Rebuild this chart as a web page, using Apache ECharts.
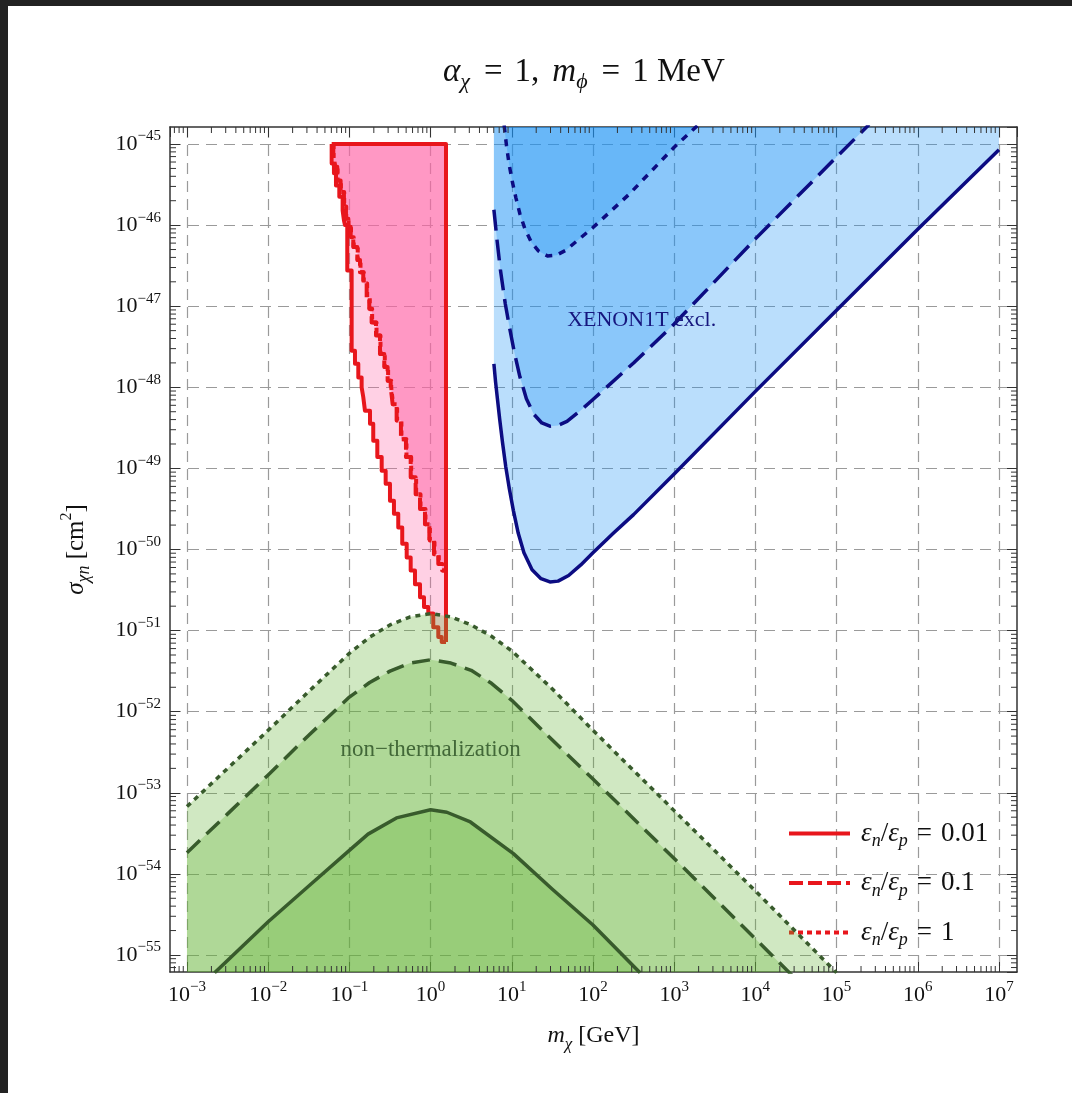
<!DOCTYPE html>
<html>
<head>
<meta charset="utf-8">
<script src="https://cdn.jsdelivr.net/npm/echarts@6/dist/echarts.min.js"></script>
<style>
  html, body { margin: 0; padding: 0; background: #222222; }
  #chart { position: absolute; left: 8px; top: 6px; width: 1064px; height: 1087px; background: #ffffff; }
</style>
</head>
<body>
<div id="chart"></div>
<script>
// All curves are stored as [log10(m_chi / GeV), log10(sigma_chi_n / cm^2)] pairs.

// Axis decades (tick labels 10^n)
const massDecades = [-3, -2, -1, 0, 1, 2, 3, 4, 5, 6, 7];
const sigmaDecades = [-55, -54, -53, -52, -51, -50, -49, -48, -47, -46, -45];

// Legend ratios eps_n / eps_p
const ratioLabels = ['0.01', '0.1', '1'];

// XENON1T exclusion boundaries (excluded above each curve)
const xenonSolid = [[0.78,-47.71],[0.80,-47.93],[0.823,-48.14],[0.852,-48.40],[0.886,-48.68],[0.926,-48.98],
  [0.97,-49.25],[1.02,-49.52],[1.08,-49.80],[1.15,-50.04],[1.25,-50.25],[1.36,-50.36],[1.47,-50.40],
  [1.57,-50.39],[1.70,-50.32],[1.85,-50.19],[2.0,-50.04],[2.25,-49.80],[2.5,-49.57],[3,-49.07],
  [4,-48.05],[5,-47.05],[6,-46.05],[7,-45.07]];
const xenonDashed = [[0.78,-45.81],[0.82,-46.2],[0.86,-46.55],[0.92,-46.97],[0.97,-47.25],[1.03,-47.56],
  [1.10,-47.87],[1.18,-48.14],[1.27,-48.33],[1.37,-48.44],[1.47,-48.48],[1.57,-48.47],[1.68,-48.42],
  [1.83,-48.30],[2,-48.15],[2.5,-47.70],[3,-47.22],[4,-46.17],[5,-45.16],[5.4,-44.76]];
const xenonDotted = [[0.906,-44.77],[0.935,-45.02],[0.967,-45.25],[1.01,-45.48],[1.05,-45.66],[1.10,-45.86],
  [1.16,-46.04],[1.24,-46.21],[1.33,-46.32],[1.44,-46.38],[1.55,-46.37],[1.665,-46.31],[1.82,-46.18],
  [2,-46.03],[2.445,-45.62],[3,-45.04],[3.3,-44.76]];

// Non-thermalization boundaries (region below each curve)
const thermSolid = [[-2.66,-55.22],[-2,-54.59],[-1.5,-54.15],[-1,-53.71],[-0.77,-53.51],[-0.42,-53.31],
  [0,-53.21],[0.2,-53.24],[0.49,-53.36],[1.02,-53.75],[1.5,-54.19],[2,-54.63],[2.58,-55.22]];
const thermDashed = [[-3,-53.74],[-2.5,-53.26],[-2,-52.78],[-1.5,-52.29],[-1,-51.82],[-0.75,-51.64],
  [-0.5,-51.50],[-0.25,-51.40],[0,-51.36],[0.25,-51.40],[0.5,-51.49],[0.75,-51.65],[1,-51.86],
  [1.5,-52.35],[2,-52.83],[3,-53.81],[4,-54.80],[4.45,-55.25]];
const thermDotted = [[-3,-53.17],[-2.5,-52.70],[-2,-52.23],[-1.5,-51.75],[-1,-51.28],[-0.75,-51.08],
  [-0.5,-50.93],[-0.25,-50.83],[0,-50.79],[0.25,-50.83],[0.5,-50.93],[0.75,-51.07],[1,-51.25],
  [1.5,-51.72],[2,-52.23],[3,-53.22],[4,-54.21],[5,-55.22]];

// Staircase boundaries of the pink region (region to the right of each curve)
const redSolid = [[-1.218,-45.0],[-1.218,-45.14],[-1.19,-45.24],[-1.165,-45.36],[-1.124,-45.51],
  [-1.083,-45.65],[-1.067,-45.82],[-1.054,-45.94],[-1.026,-46.0],[-1.026,-46.52],[-0.972,-46.56],
  [-0.972,-47.48],[-0.931,-47.55],[-0.89,-47.71],[-0.849,-47.88],[-0.829,-48.0],[-0.808,-48.12],
  [-0.746,-48.29],[-0.706,-48.45],[-0.656,-48.66],[-0.602,-48.86],[-0.553,-49.03],[-0.5,-49.19],
  [-0.451,-49.40],[-0.398,-49.56],[-0.349,-49.73],[-0.294,-49.93],[-0.245,-50.10],[-0.192,-50.26],
  [-0.13,-50.43],[-0.081,-50.59],[-0.028,-50.71],[0.033,-50.79],[0.095,-50.96],[0.137,-51.08],
  [0.157,-51.14],[0.19,-51.14]];
const redDashed = [[-1.198,-45.0],[-1.177,-45.16],[-1.149,-45.28],[-1.108,-45.45],[-1.067,-45.59],
  [-1.042,-45.77],[-1.013,-45.92],[-0.984,-46.02],[-0.952,-46.15],[-0.902,-46.27],[-0.869,-46.43],
  [-0.829,-46.58],[-0.787,-46.72],[-0.755,-46.89],[-0.726,-47.03],[-0.672,-47.20],[-0.623,-47.36],
  [-0.57,-47.59],[-0.529,-47.75],[-0.491,-47.92],[-0.467,-48.0],[-0.418,-48.21],[-0.365,-48.41],
  [-0.303,-48.64],[-0.245,-48.86],[-0.184,-49.11],[-0.13,-49.32],[-0.069,-49.50],[-0.015,-49.69],
  [0.042,-49.89],[0.095,-50.06],[0.137,-50.18],[0.165,-50.26],[0.19,-50.26]];
const redDotted = [[-1.195,-45.0],[-1.174,-45.16],[-1.146,-45.28],[-1.105,-45.45],[-1.064,-45.59],
  [-1.039,-45.77],[-1.01,-45.92],[-0.98,-46.02],[-0.947,-46.15],[-0.897,-46.27],[-0.863,-46.43],
  [-0.823,-46.58],[-0.781,-46.72],[-0.749,-46.89],[-0.72,-47.03],[-0.666,-47.20],[-0.617,-47.36],
  [-0.564,-47.59],[-0.523,-47.75],[-0.485,-47.92],[-0.461,-48.0],[-0.412,-48.21],[-0.359,-48.41],
  [-0.297,-48.64],[-0.239,-48.86],[-0.178,-49.11],[-0.124,-49.32],[-0.063,-49.50],[-0.009,-49.69],
  [0.048,-49.89],[0.101,-50.06],[0.143,-50.18],[0.171,-50.26],[0.19,-50.26]];
// Top and right edges of the pink region
const redEdge = [[-1.218,-45.0],[0.19,-45.0],[0.19,-51.14]];

// ---- plot setup ----
const X_MIN = -3.209, X_MAX = 7.222, Y_MIN = -55.21, Y_MAX = -44.79;
const FONT = "'Liberation Serif', 'Times New Roman', serif";
const AXIS_COLOR = '#333333';
const TEXT = '#111111';
const RED = '#e8161c', NAVY = '#0c0c82', DKGREEN = '#385b2c';
const PINK_FILL = 'rgba(255,98,165,0.3)';
const BLUE_FILL = 'rgba(28,145,245,0.3)';
const GREEN_FILL = 'rgba(98,178,52,0.3)';

function powerLabel(decades) {
  return function (v) {
    const r = Math.round(v);
    if (Math.abs(v - r) > 1e-6 || decades.indexOf(r) < 0) return '';
    return '{b|10}{e|' + (r < 0 ? '\u2212' : '') + Math.abs(r) + '}';
  };
}
const tickRich = {
  b: { fontFamily: FONT, fontSize: 22, lineHeight: 30, color: TEXT },
  e: { fontFamily: FONT, fontSize: 15, lineHeight: 24, color: TEXT, verticalAlign: 'top' }
};

function minorTicks(decades, lo, hi) {
  const out = [];
  for (let n = decades[0] - 1; n <= decades[decades.length - 1]; n++) {
    for (let k = 2; k <= 9; k++) {
      const v = n + Math.log10(k);
      if (v > lo && v < hi) out.push(v);
    }
  }
  return out;
}
const minorX = minorTicks(massDecades, X_MIN, X_MAX);
const minorY = minorTicks(sigmaDecades, Y_MIN, Y_MAX);
const MINOR_LEN = 6;

function axisBase(min, max) {
  return {
    type: 'value', min: min, max: max, splitNumber: 10, minInterval: 1, maxInterval: 1,
    axisLine: { show: true, onZero: false, lineStyle: { color: AXIS_COLOR, width: 1.5 } },
    axisTick: { show: true, inside: true, length: 10, lineStyle: { color: AXIS_COLOR, width: 1 } }
  };
}

const gridDash = { type: [11, 7], color: '#9a9a9a', width: 1.2 };

function nameRich(size) {
  return {
    i: { fontFamily: FONT, fontStyle: 'italic', fontSize: size, lineHeight: 34, color: TEXT },
    s: { fontFamily: FONT, fontStyle: 'italic', fontSize: Math.round(size * 0.7), lineHeight: 18, verticalAlign: 'bottom', color: TEXT },
    p: { fontFamily: FONT, fontSize: Math.round(size * 0.65), lineHeight: 22, verticalAlign: 'top', color: TEXT },
    m: { fontFamily: FONT, fontSize: size, lineHeight: 34, color: TEXT }
  };
}

const xAxes = [
  Object.assign(axisBase(X_MIN, X_MAX), {
    position: 'bottom',
    axisLabel: { show: true, showMinLabel: false, showMaxLabel: false, margin: 8,
      formatter: powerLabel(massDecades), rich: tickRich },
    splitLine: { show: true, showMinLine: false, showMaxLine: false, lineStyle: gridDash },
    name: '{i|m}{s|\u03c7}{m| [GeV]}', nameLocation: 'middle', nameGap: 47,
    nameTextStyle: { rich: nameRich(24) }
  }),
  Object.assign(axisBase(X_MIN, X_MAX), {
    position: 'top', axisLabel: { show: false }, splitLine: { show: false }
  })
];
const yAxes = [
  Object.assign(axisBase(Y_MIN, Y_MAX), {
    position: 'left',
    axisLabel: { show: true, showMinLabel: false, showMaxLabel: false, margin: 9,
      formatter: powerLabel(sigmaDecades), rich: tickRich },
    splitLine: { show: true, showMinLine: false, showMaxLine: false, lineStyle: gridDash },
    name: '{i|\u03c3}{s|\u03c7n}{m| [cm}{p|2}{m|]}', nameLocation: 'middle', nameGap: 77, nameRotate: 90,
    nameTextStyle: { rich: nameRich(25) }
  }),
  Object.assign(axisBase(Y_MIN, Y_MAX), {
    position: 'right', axisLabel: { show: false }, splitLine: { show: false }
  })
];

function fillSeries(data, color, origin, z, opts) {
  return Object.assign({
    type: 'line', data: data, symbol: 'none', showSymbol: false, silent: true,
    lineStyle: { opacity: 0, width: 0 }, areaStyle: { color: color, origin: origin, opacity: 1 }, z: z
  }, opts || {});
}
function lineSeries(data, color, width, dash, z, opts) {
  return Object.assign({
    type: 'line', data: data, symbol: 'none', showSymbol: false, silent: true,
    itemStyle: { color: color },
    lineStyle: { color: color, width: width, type: dash, cap: 'butt', join: 'round' }, z: z
  }, opts || {});
}

const ratioNames = ratioLabels.map(r => 'ratio ' + r);
const STEP = { step: 'start' };

const series = [
  // pink region
  fillSeries(redSolid, PINK_FILL, -45, 2, STEP),
  fillSeries(redDashed, PINK_FILL, -45, 2, STEP),
  fillSeries(redDotted, PINK_FILL, -45, 2, STEP),
  lineSeries(redEdge, RED, 4, 'solid', 3),
  lineSeries(redSolid, RED, 4, 'solid', 3, { name: ratioNames[0], step: 'start' }),
  lineSeries(redDashed, RED, 4, [14, 5], 3, { name: ratioNames[1], step: 'start' }),
  lineSeries(redDotted, RED, 4, [5, 4], 3, { name: ratioNames[2], step: 'start' }),
  // XENON1T
  fillSeries(xenonSolid, BLUE_FILL, 'end', 2),
  fillSeries(xenonDashed, BLUE_FILL, 'end', 2),
  fillSeries(xenonDotted, BLUE_FILL, 'end', 2),
  lineSeries(xenonSolid, NAVY, 3.5, 'solid', 3),
  lineSeries(xenonDashed, NAVY, 3.5, [21, 9], 3),
  lineSeries(xenonDotted, NAVY, 3.5, [7, 7], 3),
  // non-thermalization
  fillSeries(thermDotted, GREEN_FILL, 'start', 4),
  fillSeries(thermDashed, GREEN_FILL, 'start', 4),
  fillSeries(thermSolid, GREEN_FILL, 'start', 4),
  lineSeries(thermSolid, DKGREEN, 3.5, 'solid', 5),
  lineSeries(thermDashed, DKGREEN, 3.5, [18, 9], 5),
  lineSeries(thermDotted, DKGREEN, 3.5, [5, 5], 5),
  // region labels
  {
    type: 'scatter', data: [[2.60, -47.17]], symbolSize: 0, silent: true, z: 6,
    itemStyle: { opacity: 1 },
    label: { show: true, position: 'inside', formatter: 'XENON1T excl.', opacity: 1,
      fontFamily: FONT, fontSize: 22, color: '#16167e' }
  },
  {
    type: 'scatter', data: [[0.0, -52.47]], symbolSize: 0, silent: true, z: 6,
    itemStyle: { opacity: 1 },
    label: { show: true, position: 'inside', formatter: 'non\u2212thermalization', opacity: 1,
      fontFamily: FONT, fontSize: 23, color: '#426838' }
  },
  // logarithmic minor ticks on all four frame edges
  {
    type: 'custom', coordinateSystem: 'cartesian2d', data: [[X_MIN, Y_MIN]], silent: true, z: 20,
    renderItem: function (params, api) {
      const kids = [];
      const seg = (x1, y1, x2, y2) => kids.push({ type: 'line', shape: { x1, y1, x2, y2 },
        style: { stroke: AXIS_COLOR, lineWidth: 1 } });
      const pLB = api.coord([X_MIN, Y_MIN]), pRT = api.coord([X_MAX, Y_MAX]);
      minorX.forEach(v => {
        const x = api.coord([v, Y_MIN])[0];
        seg(x, pLB[1], x, pLB[1] - MINOR_LEN);
        seg(x, pRT[1], x, pRT[1] + MINOR_LEN);
      });
      minorY.forEach(v => {
        const y = api.coord([X_MIN, v])[1];
        seg(pLB[0], y, pLB[0] + MINOR_LEN, y);
        seg(pRT[0], y, pRT[0] - MINOR_LEN, y);
      });
      return { type: 'group', children: kids };
    }
  }
];

const legendRich = {
  pad: { width: 6 },
  i: { fontFamily: FONT, fontStyle: 'italic', fontSize: 27, lineHeight: 34, color: TEXT },
  s: { fontFamily: FONT, fontStyle: 'italic', fontSize: 18, lineHeight: 18, verticalAlign: 'bottom', color: TEXT },
  eq: { fontFamily: FONT, fontSize: 27, lineHeight: 34, color: TEXT, padding: [0, 9, 0, 9] },
  m: { fontFamily: FONT, fontSize: 27, lineHeight: 34, color: TEXT }
};

const titleRich = {
  i: { fontFamily: FONT, fontStyle: 'italic', fontWeight: 'normal', fontSize: 33, lineHeight: 42, color: TEXT },
  s: { fontFamily: FONT, fontStyle: 'italic', fontWeight: 'normal', fontSize: 22, lineHeight: 22,
       verticalAlign: 'bottom', color: TEXT, padding: [0, 2, 0, 0] },
  eq: { fontFamily: FONT, fontWeight: 'normal', fontSize: 33, lineHeight: 42, color: TEXT, padding: [0, 12, 0, 12] },
  sp: { width: 13 },
  m: { fontFamily: FONT, fontWeight: 'normal', fontSize: 33, lineHeight: 42, color: TEXT }
};

const option = {
  animation: false,
  backgroundColor: '#ffffff',
  title: {
    text: '{i|\u03b1}{s|\u03c7}{eq|=}{m|1,}{sp|}{i|m}{s|\u03d5}{eq|=}{m|1 MeV}',
    left: 435, top: 45, padding: 0,
    textStyle: { fontWeight: 'normal', rich: titleRich }
  },
  legend: {
    data: ratioNames, orient: 'vertical', left: 779, top: 814, padding: 0,
    itemWidth: 61, itemHeight: 14, itemGap: 19, selectedMode: false,
    itemStyle: { opacity: 0 },
    lineStyle: { width: 4, cap: 'butt' },
    formatter: function (name) {
      const r = ratioLabels[ratioNames.indexOf(name)];
      return '{pad|}{i|\u03b5}{s|n}{m|/}{i|\u03b5}{s|p}{eq|=}{m|' + r + '}';
    },
    textStyle: { rich: legendRich }
  },
  grid: { left: 162, top: 121, width: 847, height: 845, containLabel: false },
  xAxis: xAxes,
  yAxis: yAxes,
  series: series
};

const chart = echarts.init(document.getElementById('chart'));
chart.setOption(option);
</script>
</body>
</html>
